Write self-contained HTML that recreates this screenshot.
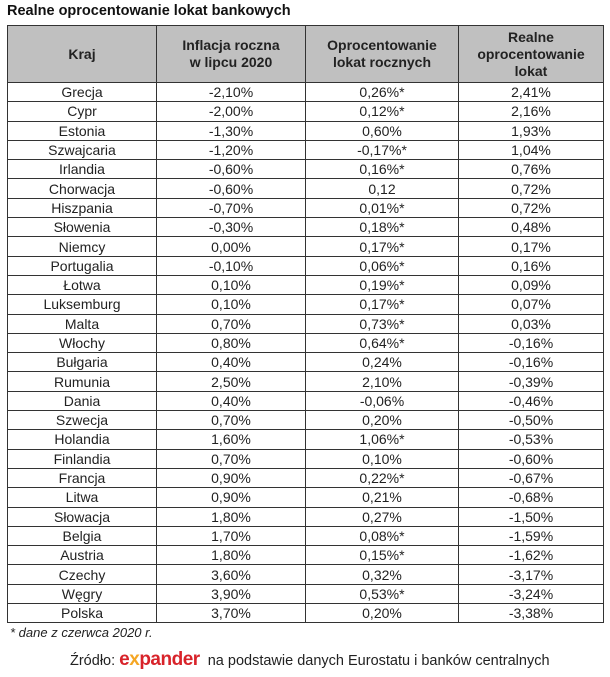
<!DOCTYPE html>
<html><head><meta charset="utf-8"><style>
body{margin:0;width:610px;height:677px;background:#fff;font-family:"Liberation Sans",sans-serif;color:#222;position:relative;overflow:hidden}
.t{position:absolute;left:7px;top:3px;font-weight:bold;font-size:14.5px;color:#111}
table{position:absolute;left:7px;top:25px;border-collapse:collapse;width:596px;table-layout:fixed}
td,th{border:1px solid #333;text-align:center;font-size:14px;padding:0;height:18.3px;line-height:18px}
th{background:#c0c0c0;font-weight:bold;font-size:14px;height:56px;line-height:17px;color:#222}
.fn{position:absolute;left:10px;top:625px;font-style:italic;font-size:13px}
.src{position:absolute;left:70px;top:649px;font-size:14.5px;white-space:nowrap}
.ex{color:#d8232a;font-weight:bold;font-size:19px;letter-spacing:-0.5px}
.ex b{color:#f5a623}
</style></head><body>
<div class="t">Realne oprocentowanie lokat bankowych</div>
<table>
<colgroup><col style="width:149px"><col style="width:149px"><col style="width:153px"><col style="width:145px"></colgroup>
<tr><th>Kraj</th><th>Inflacja roczna<br>w lipcu 2020</th><th>Oprocentowanie<br>lokat rocznych</th><th>Realne<br>oprocentowanie<br>lokat</th></tr>
<tr><td>Grecja</td><td>-2,10%</td><td>0,26%*</td><td>2,41%</td></tr>
<tr><td>Cypr</td><td>-2,00%</td><td>0,12%*</td><td>2,16%</td></tr>
<tr><td>Estonia</td><td>-1,30%</td><td>0,60%</td><td>1,93%</td></tr>
<tr><td>Szwajcaria</td><td>-1,20%</td><td>-0,17%*</td><td>1,04%</td></tr>
<tr><td>Irlandia</td><td>-0,60%</td><td>0,16%*</td><td>0,76%</td></tr>
<tr><td>Chorwacja</td><td>-0,60%</td><td>0,12</td><td>0,72%</td></tr>
<tr><td>Hiszpania</td><td>-0,70%</td><td>0,01%*</td><td>0,72%</td></tr>
<tr><td>Słowenia</td><td>-0,30%</td><td>0,18%*</td><td>0,48%</td></tr>
<tr><td>Niemcy</td><td>0,00%</td><td>0,17%*</td><td>0,17%</td></tr>
<tr><td>Portugalia</td><td>-0,10%</td><td>0,06%*</td><td>0,16%</td></tr>
<tr><td>Łotwa</td><td>0,10%</td><td>0,19%*</td><td>0,09%</td></tr>
<tr><td>Luksemburg</td><td>0,10%</td><td>0,17%*</td><td>0,07%</td></tr>
<tr><td>Malta</td><td>0,70%</td><td>0,73%*</td><td>0,03%</td></tr>
<tr><td>Włochy</td><td>0,80%</td><td>0,64%*</td><td>-0,16%</td></tr>
<tr><td>Bułgaria</td><td>0,40%</td><td>0,24%</td><td>-0,16%</td></tr>
<tr><td>Rumunia</td><td>2,50%</td><td>2,10%</td><td>-0,39%</td></tr>
<tr><td>Dania</td><td>0,40%</td><td>-0,06%</td><td>-0,46%</td></tr>
<tr><td>Szwecja</td><td>0,70%</td><td>0,20%</td><td>-0,50%</td></tr>
<tr><td>Holandia</td><td>1,60%</td><td>1,06%*</td><td>-0,53%</td></tr>
<tr><td>Finlandia</td><td>0,70%</td><td>0,10%</td><td>-0,60%</td></tr>
<tr><td>Francja</td><td>0,90%</td><td>0,22%*</td><td>-0,67%</td></tr>
<tr><td>Litwa</td><td>0,90%</td><td>0,21%</td><td>-0,68%</td></tr>
<tr><td>Słowacja</td><td>1,80%</td><td>0,27%</td><td>-1,50%</td></tr>
<tr><td>Belgia</td><td>1,70%</td><td>0,08%*</td><td>-1,59%</td></tr>
<tr><td>Austria</td><td>1,80%</td><td>0,15%*</td><td>-1,62%</td></tr>
<tr><td>Czechy</td><td>3,60%</td><td>0,32%</td><td>-3,17%</td></tr>
<tr><td>Węgry</td><td>3,90%</td><td>0,53%*</td><td>-3,24%</td></tr>
<tr><td>Polska</td><td>3,70%</td><td>0,20%</td><td>-3,38%</td></tr>
</table>
<div class="fn">* dane z czerwca 2020 r.</div>
<div class="src">Źródło: <span class="ex">e<b>x</b>pander</span>&nbsp; na podstawie danych Eurostatu i banków centralnych</div>
</body></html>
